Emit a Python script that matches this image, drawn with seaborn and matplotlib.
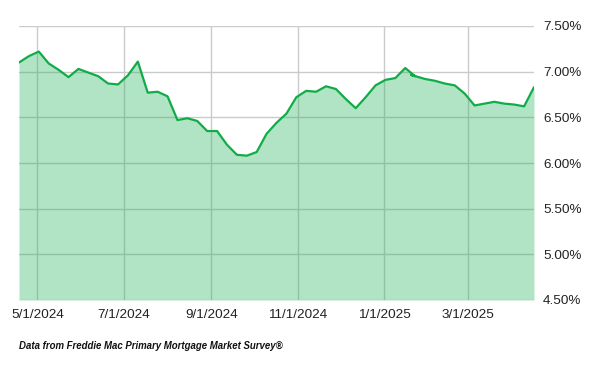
import matplotlib
matplotlib.use("Agg")
import matplotlib.pyplot as plt
import matplotlib.dates as mdates
from matplotlib.ticker import FuncFormatter, FixedLocator
import seaborn as sns
import pandas as pd

# ---- data ----
dates = [
    "2024-04-18", "2024-04-25", "2024-05-02", "2024-05-09", "2024-05-16", "2024-05-23",
    "2024-05-30", "2024-06-06", "2024-06-13", "2024-06-20", "2024-06-27", "2024-07-04",
    "2024-07-11", "2024-07-18", "2024-07-25", "2024-08-01", "2024-08-08", "2024-08-15",
    "2024-08-22", "2024-08-29", "2024-09-05", "2024-09-12", "2024-09-19", "2024-09-26",
    "2024-10-03", "2024-10-10", "2024-10-17", "2024-10-24", "2024-10-31", "2024-11-07",
    "2024-11-14", "2024-11-21", "2024-11-28", "2024-12-05", "2024-12-12", "2024-12-19",
    "2024-12-26", "2025-01-02", "2025-01-09", "2025-01-16", "2025-01-23", "2025-01-20",
    "2025-01-30", "2025-02-06", "2025-02-13", "2025-02-20", "2025-02-27", "2025-03-06",
    "2025-03-13", "2025-03-20", "2025-03-27", "2025-04-03", "2025-04-10", "2025-04-17",
]
rates = [
    7.10, 7.17, 7.22, 7.09, 7.02, 6.94,
    7.03, 6.99, 6.95, 6.87, 6.86, 6.96,
    7.11, 6.77, 6.78, 6.73, 6.47, 6.49,
    6.46, 6.35, 6.35, 6.20, 6.09, 6.08,
    6.12, 6.32, 6.44, 6.54, 6.72, 6.79,
    6.78, 6.84, 6.81, 6.70, 6.60, 6.72,
    6.85, 6.91, 6.93, 7.04, 6.95, 6.965,
    6.92, 6.90, 6.87, 6.85, 6.76, 6.63,
    6.65, 6.67, 6.65, 6.64, 6.62, 6.83,
]
x_tick_dates = ["2024-05-01", "2024-07-01", "2024-09-01", "2024-11-01", "2025-01-01", "2025-03-01"]
x_tick_labels = ["5/1/2024", "7/1/2024", "9/1/2024", "11/1/2024", "1/1/2025", "3/1/2025"]
y_ticks = [4.50, 5.00, 5.50, 6.00, 6.50, 7.00, 7.50]
footnote = "Data from Freddie Mac Primary Mortgage Market Survey\u00ae"

df = pd.DataFrame({"date": pd.to_datetime(dates), "rate": rates})

sns.set_theme(style="white")
plt.rcParams["font.family"] = ["Liberation Sans", "DejaVu Sans"]

line_color = "#10ac48"
fig = plt.figure(figsize=(6.0, 3.71), dpi=100)
ax = fig.add_axes([19 / 600, 1 - 300 / 371, (534 - 19) / 600, (300 - 26) / 371])

ax.fill_between(df["date"], y_ticks[0], df["rate"], color="#22b357", alpha=0.35,
                linewidth=0, zorder=2)
sns.lineplot(data=df, x="date", y="rate", sort=False, color=line_color,
             linewidth=1.6, ax=ax, zorder=3)

ax.set_xlim(df["date"].min(), df["date"].max())
ax.set_ylim(y_ticks[0], y_ticks[-1])

ax.xaxis.set_major_locator(FixedLocator(mdates.date2num(pd.to_datetime(x_tick_dates))))
ax.set_xticklabels(x_tick_labels)
ax.set_yticks(y_ticks)
ax.yaxis.set_major_formatter(FuncFormatter(lambda v, p: f"{v:.2f}%"))
ax.yaxis.tick_right()

ax.grid(True, color="#cbcbcb", linewidth=1.0, zorder=1)
ax.set_axisbelow(True)
for s in ax.spines.values():
    s.set_visible(False)

ax.tick_params(axis="x", length=0, pad=6.5, labelsize=9.7, colors="#222222")
ax.tick_params(axis="y", length=0, pad=6.5, labelsize=9.7, colors="#222222")
ax.set_xlabel("")
ax.set_ylabel("")

fig.text(19 / 600, 1 - 346 / 371, footnote, fontsize=6.9, style="italic",
         fontweight="bold", color="#111111", va="center", ha="left")

fig.savefig("out.png", dpi=100)
